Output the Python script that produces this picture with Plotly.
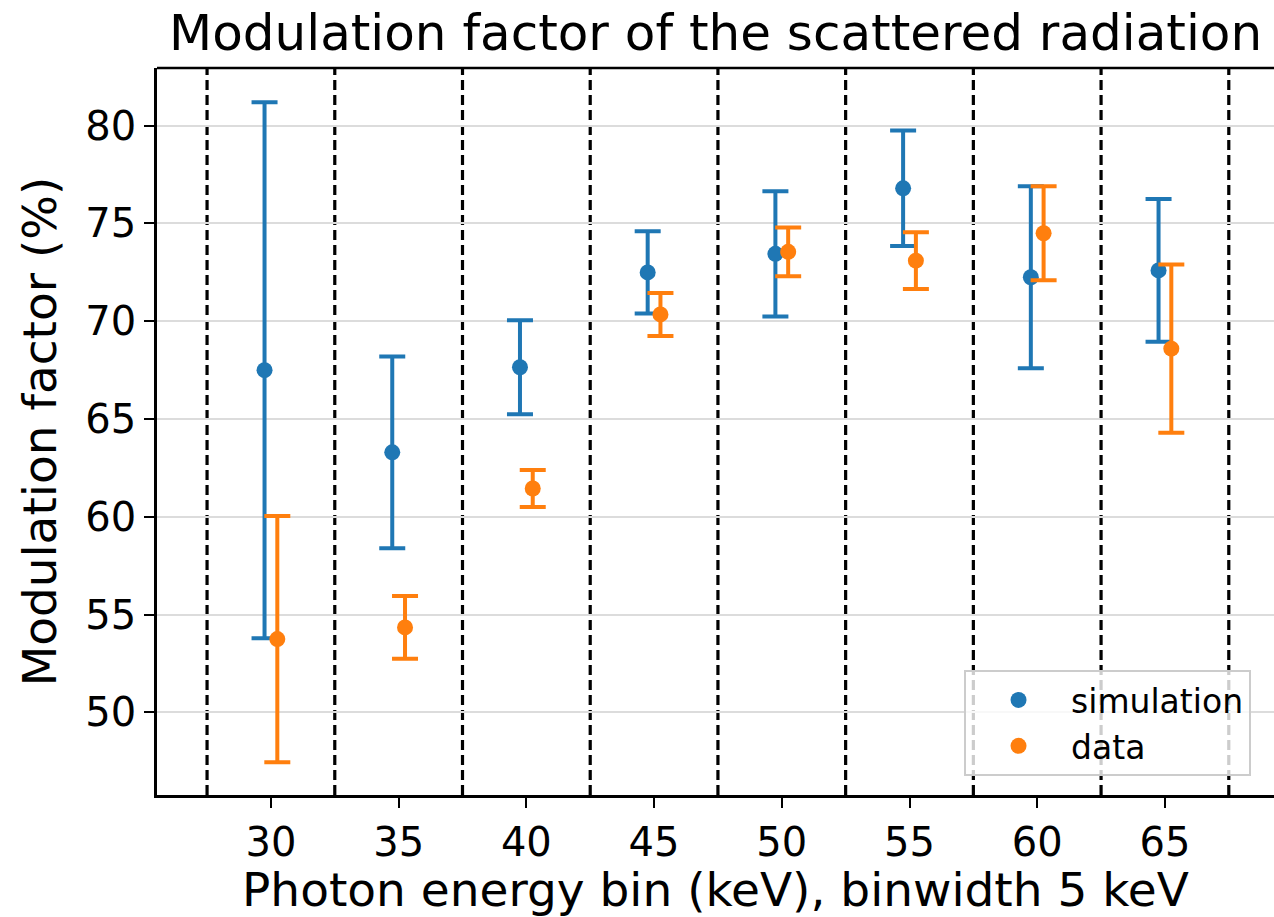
import plotly.graph_objects as go

energy_bins = [30, 35, 40, 45, 50, 55, 60, 65]
sim_values = [67.5, 63.3, 67.65, 72.5, 73.45, 76.8, 72.25, 72.6]
sim_errors = [13.7, 4.9, 2.4, 2.1, 3.2, 2.95, 4.65, 3.65]
data_values = [53.75, 54.35, 61.45, 70.35, 73.55, 73.1, 74.5, 68.6]
data_errors = [6.3, 1.6, 0.95, 1.1, 1.25, 1.45, 2.4, 4.3]
bin_width = 5
offset = 0.25

BLUE = "#1f77b4"
ORANGE = "#ff7f0e"
FONT = "DejaVu Sans"

fig = go.Figure()

fig.add_trace(go.Scatter(
    x=[e - offset for e in energy_bins], y=sim_values, mode="markers", name="simulation",
    marker=dict(color=BLUE, size=16),
    error_y=dict(type="data", array=sim_errors, visible=True, color=BLUE, thickness=4, width=13),
))
fig.add_trace(go.Scatter(
    x=[e + offset for e in energy_bins], y=data_values, mode="markers", name="data",
    marker=dict(color=ORANGE, size=16),
    error_y=dict(type="data", array=data_errors, visible=True, color=ORANGE, thickness=4, width=13),
))

edges = [energy_bins[0] - bin_width / 2] + [e + bin_width / 2 for e in energy_bins]
for xe in edges:
    fig.add_shape(type="line", xref="x", yref="paper", x0=xe, x1=xe, y0=0, y1=1,
                  line=dict(color="black", width=3.2, dash="10px,5px"), layer="between")

# top spine
fig.add_shape(type="line", xref="paper", yref="paper", x0=0, x1=1, y0=1, y1=1,
              line=dict(color="black", width=2.5), layer="above")

fig.update_layout(
    width=1274, height=917,
    margin=dict(l=157, r=0, t=68, b=122),
    plot_bgcolor="white", paper_bgcolor="white",
    font=dict(family=FONT, color="black", size=40),
    title=dict(text="Modulation factor of the scattered radiation", x=0.5617, xref="container",
               xanchor="center", y=1 - 32 / 917, yref="container", yanchor="middle",
               font=dict(family=FONT, size=50, color="black")),
    showlegend=True,
    legend=dict(x=0.7225, y=0.172, xanchor="left", yanchor="top",
                bgcolor="rgba(255,255,255,0.8)", bordercolor="#cccccc", borderwidth=2,
                font=dict(family=FONT, size=33, color="black"), itemsizing="trace",
                itemwidth=95),
    xaxis=dict(range=[25.54, 69.27], tickvals=energy_bins, ticktext=[str(e) for e in energy_bins],
               showgrid=False, zeroline=False, showline=True, linecolor="black", linewidth=2.5,
               ticks="outside", ticklen=10, tickwidth=2, tickcolor="black",
               tickfont=dict(size=40), ticklabelstandoff=0,
               title=dict(text="Photon energy bin (keV), binwidth 5 keV", font=dict(size=47), standoff=8)),
    yaxis=dict(range=[45.78, 82.95], tickvals=[50, 55, 60, 65, 70, 75, 80],
               showgrid=True, gridcolor="#dcdcdc", gridwidth=2, zeroline=False,
               showline=True, linecolor="black", linewidth=2.5,
               ticks="outside", ticklen=10, tickwidth=2, tickcolor="black",
               tickfont=dict(size=40),
               title=dict(text="Modulation factor (%)", font=dict(size=47), standoff=14)),
)

fig.write_html("out.html")
